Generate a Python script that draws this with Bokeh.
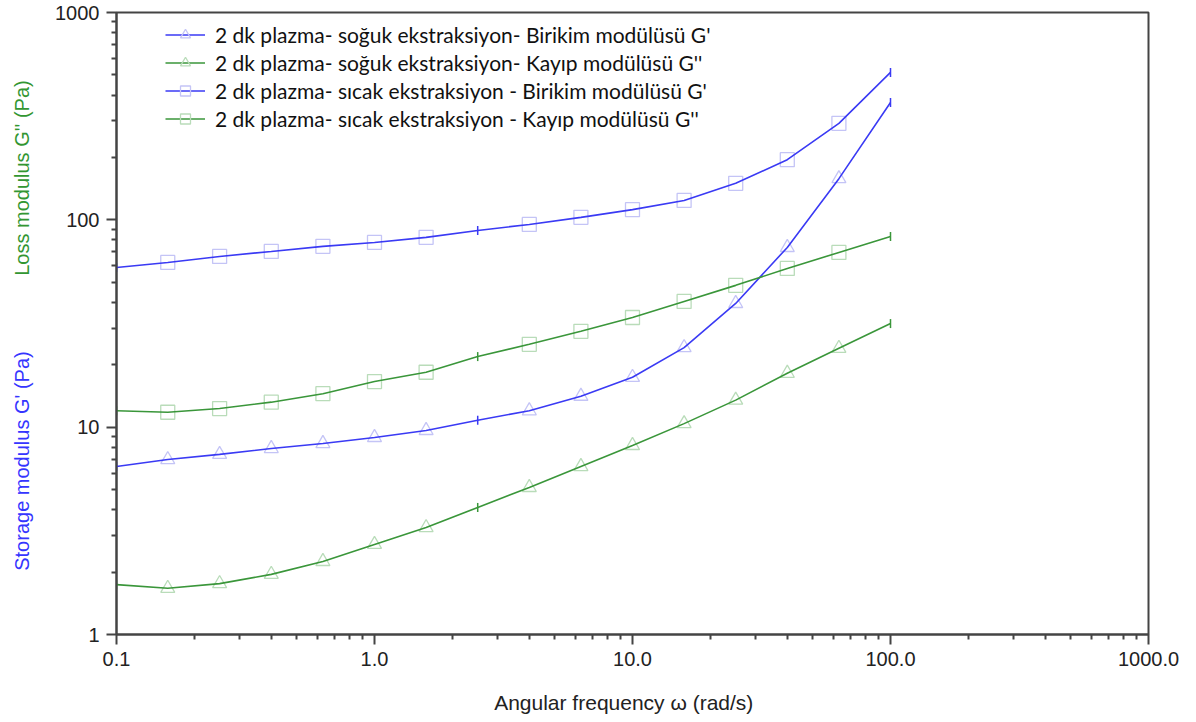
import math
from bokeh.plotting import figure
from bokeh.layouts import row
from bokeh.models import FixedTicker, PrintfTickFormatter, NumeralTickFormatter, Legend, LegendItem, Label
from bokeh.embed import file_html
from bokeh.resources import INLINE

# ---- data ----
freq = [0.1, 0.158, 0.251, 0.398, 0.631, 1.0, 1.585, 2.512, 3.981, 6.31,
        10.0, 15.85, 25.12, 39.81, 63.1, 100.0]
cold_gp = [6.46, 6.98, 7.39, 7.89, 8.34, 8.92, 9.64, 10.8, 12.0, 14.1,
           17.4, 24.2, 39.5, 73.6, 158.0, 368.0]
cold_gpp = [1.74, 1.67, 1.76, 1.95, 2.25, 2.72, 3.28, 4.10, 5.12, 6.46,
            8.16, 10.4, 13.5, 18.2, 24.0, 31.6]
hot_gp = [58.9, 62.3, 66.6, 70.4, 74.5, 77.8, 82.3, 88.9, 95.0, 102.8,
          112.0, 124.0, 150.0, 195.0, 292.0, 514.0]
hot_gpp = [12.0, 11.8, 12.3, 13.2, 14.5, 16.6, 18.4, 21.9, 25.1, 29.0,
           33.8, 40.4, 48.3, 58.3, 69.6, 83.2]

series_names = [
    "2 dk plazma- soğuk ekstraksiyon- Birikim modülüsü G'",
    "2 dk plazma- soğuk ekstraksiyon- Kayıp modülüsü G''",
    "2 dk plazma- sıcak ekstraksiyon - Birikim modülüsü G'",
    "2 dk plazma- sıcak ekstraksiyon - Kayıp modülüsü G''",
]
x_tick_values = [0.1, 1, 10, 100, 1000]
y_tick_values = [1, 10, 100, 1000]
tick_idx = [0, 7, 15]

BLUE = "#3a3af4"
GREEN = "#3a963a"
LBLUE = "#c4c4f6"
LGREEN = "#b9dcb9"

p = figure(width=1152, height=722, x_axis_type="log", y_axis_type="log",
           x_range=(0.1, 1000), y_range=(1, 1000),
           output_backend="svg", toolbar_location=None,
           min_border_left=72, min_border_right=48,
           min_border_top=12, min_border_bottom=88)
p.grid.visible = False
p.outline_line_color = "#444444"
p.outline_line_width = 2
p.background_fill_color = "white"
p.border_fill_color = "white"

xminor = [k * 10.0 ** e for e in range(-1, 3) for k in range(2, 10)]
yminor = [k * 10.0 ** e for e in range(0, 3) for k in range(2, 10)]
p.xaxis.ticker = FixedTicker(ticks=x_tick_values, minor_ticks=xminor)
p.yaxis.ticker = FixedTicker(ticks=y_tick_values, minor_ticks=yminor)
p.xaxis.formatter = PrintfTickFormatter(format="%.1f")
p.yaxis.formatter = NumeralTickFormatter(format="0")

for ax in (p.xaxis[0], p.yaxis[0]):
    ax.axis_line_color = "#444444"
    ax.axis_line_width = 2
    ax.major_tick_line_color = "#444444"
    ax.major_tick_line_width = 2
    ax.minor_tick_line_color = "#444444"
    ax.minor_tick_line_width = 2
    ax.major_tick_in = 0
    ax.major_tick_out = 10
    ax.minor_tick_in = 0
    ax.minor_tick_out = 5
    ax.major_label_text_font = "Liberation Sans"
    ax.major_label_text_font_size = "20px"
    ax.major_label_text_color = "#222222"
    ax.major_label_standoff = 7

p.xaxis.axis_label = "Angular frequency  ω   (rad/s)"
p.xaxis.axis_label_text_font = "Liberation Sans"
p.xaxis.axis_label_text_font_size = "21px"
p.xaxis.axis_label_text_font_style = "normal"
p.xaxis.axis_label_text_color = "#222222"
p.xaxis.axis_label_standoff = 22

def idx(lst, ids):
    return [lst[i] for i in ids]

open_idx = [i for i in range(len(freq)) if i not in tick_idx]

specs = [
    (cold_gp, BLUE, LBLUE, "triangle"),
    (cold_gpp, GREEN, LGREEN, "triangle"),
    (hot_gp, BLUE, LBLUE, "square"),
    (hot_gpp, GREEN, LGREEN, "square"),
]
items = []
for name, (vals, col, lcol, mk) in zip(series_names, specs):
    m = p.scatter(idx(freq, open_idx), idx(vals, open_idx), marker=mk, size=14,
                  fill_color=None, line_color=lcol, line_width=1.3)
    l = p.line(freq, vals, line_color=col, line_width=1.6)
    p.scatter(idx(freq, tick_idx), idx(vals, tick_idx), marker="dash", angle=math.pi / 2,
              size=9, line_color=col, line_width=1.5)
    items.append(LegendItem(label=name, renderers=[l, m]))

legend = Legend(items=items, location=(49, 503), padding=0, margin=0,
                spacing=3, glyph_width=40, glyph_height=25, label_height=25,
                label_standoff=10, background_fill_alpha=0, border_line_alpha=0,
                label_text_font="Lato", label_text_font_size="21px",
                label_text_color="#111111")
p.add_layout(legend)

# narrow side figure holding the two coloured y-axis titles
side = figure(width=44, height=722, x_range=(0, 1), y_range=(0, 1),
              output_backend="svg", toolbar_location=None,
              x_axis_location=None, y_axis_location=None,
              min_border_left=0, min_border_right=0,
              min_border_top=0, min_border_bottom=0)
side.grid.visible = False
side.outline_line_color = None
side.background_fill_color = "white"
side.border_fill_color = "white"
side.add_layout(Label(x=21, y=179, x_units="screen", y_units="screen",
                      text="Storage modulus  G'  (Pa)", angle=math.pi / 2,
                      text_align="center", text_baseline="middle",
                      text_font="Liberation Sans", text_font_size="20px",
                      text_color="#3535ff"))
side.add_layout(Label(x=21, y=462, x_units="screen", y_units="screen",
                      text="Loss modulus  G''  (Pa)", angle=math.pi / 2,
                      text_align="center", text_baseline="middle",
                      text_font="Liberation Sans", text_font_size="20px",
                      text_color="#329632"))

layout = row(side, p)
open("out.html", "w").write(file_html(layout, INLINE))
